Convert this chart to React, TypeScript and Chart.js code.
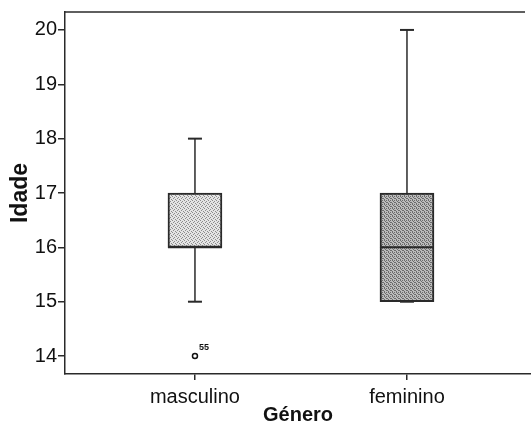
import React, { useEffect, useRef } from "react";
import { Chart, registerables } from "chart.js";

Chart.register(...registerables);

const categories = ["masculino", "feminino"];
const mins = [15, 15];
const q1s = [16, 15];
const medians = [16, 16];
const q3s = [17, 17];
const maxs = [18, 20];
const outliers = [{ cat: 1, y: 14, label: "55" }];
const yTicks = [14, 15, 16, 17, 18, 19, 20];
const boxBase = ["#e4e4e4", "#bcbcbc"];
const boxDots = ["#8c8c8c", "#6c6c6c"];

const FONT = "'Liberation Sans', Arial, sans-serif";
const INK = "#2a2a2a";

function makeStipple(base: string, dot: string, dots: number[][]) {
  const tile = document.createElement("canvas");
  tile.width = 4;
  tile.height = 4;
  const c = tile.getContext("2d")!;
  c.fillStyle = base;
  c.fillRect(0, 0, 4, 4);
  c.fillStyle = dot;
  dots.forEach(([x, y]) => c.fillRect(x, y, 1, 1));
  const p = c.createPattern(tile, "repeat");
  return p || base;
}

export default function App() {
  const ref = useRef<HTMLCanvasElement | null>(null);

  useEffect(() => {
    const canvas = ref.current;
    if (!canvas) return;

    const patterns = [
      makeStipple(boxBase[0], boxDots[0], [[0, 0], [2, 1], [1, 2], [3, 3]]),
      makeStipple(boxBase[1], boxDots[1], [[0, 0], [2, 0], [1, 1], [3, 2], [0, 3], [2, 2]]),
    ];

    const whiskerSets = categories.map((_, i) => ({
      type: "scatter" as const,
      data: [
        { x: i + 1, y: mins[i] },
        { x: i + 1, y: maxs[i] },
      ],
      showLine: true,
      borderColor: INK,
      borderWidth: 1.5,
      pointRadius: 0,
      order: 5,
    }));

    const capData: { x: number; y: number }[] = [];
    categories.forEach((_, i) => {
      capData.push({ x: i + 1, y: mins[i] });
      capData.push({ x: i + 1, y: maxs[i] });
    });

    const labelPlugin = {
      id: "extras",
      afterDatasetsDraw(chart: any) {
        const { ctx, chartArea, scales } = chart;
        ctx.save();
        ctx.strokeStyle = INK;
        ctx.lineWidth = 1.5;
        ctx.beginPath();
        ctx.moveTo(chartArea.left, chartArea.top);
        ctx.lineTo(chartArea.right - 6, chartArea.top);
        ctx.stroke();
        ctx.fillStyle = "#111";
        ctx.font = `bold 9px ${FONT}`;
        ctx.textAlign = "left";
        ctx.textBaseline = "alphabetic";
        outliers.forEach((o) => {
          const px = scales.x.getPixelForValue(o.cat);
          const py = scales.y.getPixelForValue(o.y);
          ctx.fillText(o.label, px + 4, py - 6);
        });
        ctx.restore();
      },
    };

    const chart = new Chart(canvas, {
      type: "bar",
      data: {
        datasets: [
          ...whiskerSets,
          {
            type: "bar" as const,
            data: categories.map((_, i) => ({ x: i + 1, y: [q1s[i], q3s[i]] })) as any,
            backgroundColor: patterns,
            borderColor: INK,
            borderWidth: 2,
            borderSkipped: false,
            barThickness: 54,
            order: 3,
          },
          {
            type: "scatter" as const,
            data: categories.map((_, i) => ({ x: i + 1, y: medians[i] })),
            pointStyle: "line",
            pointRadius: 27,
            borderColor: INK,
            borderWidth: 2,
            order: 1,
          },
          {
            type: "scatter" as const,
            data: capData,
            pointStyle: "line",
            pointRadius: 7,
            borderColor: INK,
            borderWidth: 2,
            order: 1,
          },
          {
            type: "scatter" as const,
            data: outliers.map((o) => ({ x: o.cat, y: o.y })),
            pointStyle: "circle",
            pointRadius: 2.5,
            backgroundColor: "#ffffff",
            borderColor: "#111",
            borderWidth: 1.5,
            order: 0,
          },
        ] as any,
      },
      options: {
        responsive: false,
        animation: false,
        layout: { autoPadding: false, padding: { top: 12, right: 0, left: 0, bottom: 0 } },
        plugins: {
          legend: { display: false },
          tooltip: { enabled: false },
        },
        scales: {
          x: {
            type: "linear",
            min: 0.387,
            max: 2.585,
            offset: false,
            afterBuildTicks: (scale: any) => {
              scale.ticks = categories.map((_, i) => ({ value: i + 1 }));
            },
            afterFit: (scale: any) => {
              scale.height = 57;
              scale.paddingLeft = 0;
              scale.paddingRight = 0;
            },
            ticks: {
              color: "#111",
              font: { family: FONT, size: 20 },
              padding: 5,
              maxRotation: 0,
              autoSkip: false,
              callback: (v: any) => categories[Math.round(Number(v)) - 1] ?? "",
            },
            grid: {
              display: true,
              offset: false,
              drawOnChartArea: false,
              drawTicks: true,
              tickLength: 6,
              color: INK,
              lineWidth: 1.5,
            },
            border: { display: true, color: INK, width: 1.5 },
            title: {
              display: true,
              text: "Género",
              color: "#111",
              font: { family: FONT, size: 20, weight: "bold" },
              padding: { top: 0, bottom: 4 },
            },
          },
          y: {
            type: "linear",
            min: 13.67,
            max: 20.33,
            afterBuildTicks: (scale: any) => {
              scale.ticks = yTicks.map((v) => ({ value: v }));
            },
            afterFit: (scale: any) => {
              scale.width = 65;
              scale.paddingTop = 0;
              scale.paddingBottom = 0;
            },
            ticks: {
              color: "#111",
              font: { family: FONT, size: 20 },
              padding: 1,
              autoSkip: false,
            },
            grid: {
              display: true,
              drawOnChartArea: false,
              drawTicks: true,
              tickLength: 7,
              color: INK,
              lineWidth: 1.5,
            },
            border: { display: true, color: INK, width: 1.5 },
            title: {
              display: true,
              text: "Idade",
              color: "#111",
              font: { family: FONT, size: 23, weight: "bold" },
              padding: { top: 7, bottom: 0 },
            },
          },
        },
      } as any,
      plugins: [labelPlugin],
    });

    return () => chart.destroy();
  }, []);

  return (
    <div style={{ position: "fixed", left: 0, top: 0, width: 531, height: 431, background: "#fff" }}>
      <canvas ref={ref} width={531} height={431} style={{ display: "block" }} />
    </div>
  );
}
